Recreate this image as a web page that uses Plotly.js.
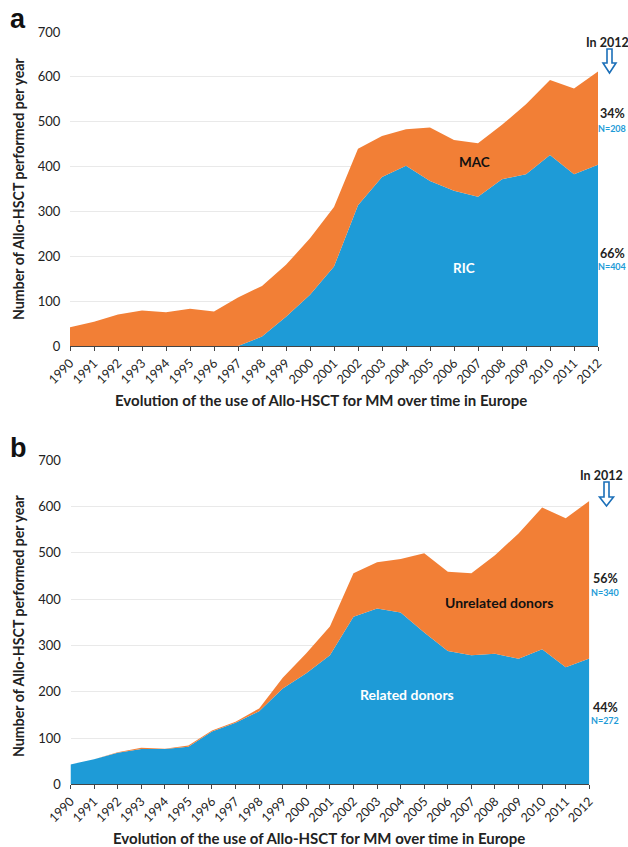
<!DOCTYPE html>
<html>
<head>
<meta charset="utf-8">
<script src="https://cdn.plot.ly/plotly-3.0.1.min.js"></script>
<style>html,body{margin:0;padding:0;background:#fff;}#chart{width:628px;height:847px;}</style>
</head>
<body>
<div id="chart"></div>
<script>
// ---- data ----
const years = ['1990','1991','1992','1993','1994','1995','1996','1997','1998','1999','2000','2001','2002','2003','2004','2005','2006','2007','2008','2009','2010','2011','2012'];
// Panel a: conditioning intensity
const ricA = [0,0,0,0,0,0,0,0,21,65,114,177,314,377,402,368,346,333,372,383,426,383,404];
const macA = [42,54,70,79,75,83,77,108,113,116,126,133,126,91,81,119,113,119,121,156,167,191,208];
// Panel b: donor type
const relatedB = [43,54,68,76,76,81,114,133,158,207,240,279,362,380,371,328,288,279,282,271,292,253,272];
const unrelatedB = [0,0,1,3,1,3,2,2,6,23,43,62,94,100,116,171,171,177,213,271,306,322,340];
const yTicks = [0,100,200,300,400,500,600,700];

// ---- layout helpers ----
const W = 628, H = 847;
const px = x => x / W;
const py = y => 1 - y / H;
const BLUE = '#1E9BD7', ORANGE = '#F27F36', FONT = 'Lato, "Open Sans", sans-serif';

function area(y, color, xa, ya, grp, name) {
  return {x: years, y: y, type: 'scatter', mode: 'none', stackgroup: grp, name: name,
          fillcolor: color, line: {width: 0}, xaxis: xa, yaxis: ya, hoverinfo: 'x+y+name'};
}
const data = [
  area(ricA, BLUE, 'x', 'y', 'a', 'RIC'),
  area(macA, ORANGE, 'x', 'y', 'a', 'MAC'),
  area(relatedB, BLUE, 'x2', 'y2', 'b', 'Related donors'),
  area(unrelatedB, ORANGE, 'x2', 'y2', 'b', 'Unrelated donors')
];

function xax(d0, d1, anchor) {
  return {domain: [d0, d1], anchor: anchor, type: 'category', range: [0, years.length - 1],
          tickangle: -45, showline: true, linecolor: '#444', linewidth: 1, ticks: 'outside',
          ticklen: 4, tickcolor: '#444', showgrid: false, zeroline: false,
          tickfont: {family: FONT, size: 12.5, color: '#222'}, fixedrange: true};
}
function yax(d0, d1, anchor) {
  return {domain: [d0, d1], anchor: anchor, range: [0, 700], tickvals: yTicks,
          showline: false, zeroline: false, gridcolor: '#e9e9e9', gridwidth: 1,
          ticks: 'outside', ticklen: 6, tickcolor: 'rgba(0,0,0,0)',
          tickfont: {family: FONT, size: 13, color: '#222'}, fixedrange: true};
}

function ann(text, x, y, size, color, bold, extra) {
  return Object.assign({text: bold ? '<b>' + text + '</b>' : text, xref: 'paper', yref: 'paper',
    x: px(x), y: py(y), xanchor: 'center', yanchor: 'middle', showarrow: false,
    font: {family: FONT, size: size, color: color}}, extra || {});
}
function arrowPath(cx, top, headTop, tip, shaftHalf, headHalf) {
  const pts = [[cx - shaftHalf, top], [cx + shaftHalf, top], [cx + shaftHalf, headTop], [cx + headHalf, headTop],
               [cx, tip], [cx - headHalf, headTop], [cx - shaftHalf, headTop]];
  return 'M ' + pts.map(p => px(p[0]) + ',' + py(p[1])).join(' L ') + ' Z';
}

const xTitle = 'Evolution of the use of Allo-HSCT for MM over time in Europe';
const yTitle = 'Number of Allo-HSCT performed per year';

const layout = {
  width: W, height: H, margin: {l: 0, r: 0, t: 0, b: 0},
  paper_bgcolor: '#fff', plot_bgcolor: '#fff', showlegend: false,
  font: {family: FONT},
  xaxis: xax(px(70), px(598), 'y'),
  yaxis: yax(py(346), py(32), 'x'),
  xaxis2: xax(px(70.5), px(589.3), 'y2'),
  yaxis2: yax(py(784.3), py(460.3), 'x2'),
  annotations: [
    ann('a', 18, 19, 27, '#111', true, {font: {family: 'Liberation Sans, Arial, sans-serif', size: 27, color: '#111'}}),
    ann('b', 18, 448, 27, '#111', true, {font: {family: 'Liberation Sans, Arial, sans-serif', size: 27, color: '#111'}}),
    ann(yTitle, 18, 189, 14.2, '#222', true, {textangle: -90}),
    ann(yTitle, 18, 626, 14.2, '#222', true, {textangle: -90}),
    ann(xTitle, 321, 400, 15, '#222', true),
    ann(xTitle, 319, 838, 15, '#222', true),
    ann('In 2012', 607, 42, 12.5, '#222', true),
    ann('34%', 612, 114, 12.5, '#222', true),
    ann('N=208', 611.5, 128, 9, BLUE, true),
    ann('66%', 612, 253, 12.5, '#222', true),
    ann('N=404', 611.5, 267, 9, BLUE, true),
    ann('MAC', 474, 162, 13.5, '#111', true),
    ann('RIC', 464, 268, 13.5, '#fff', true),
    ann('In 2012', 601, 475, 12.5, '#222', true),
    ann('56%', 605, 578, 12.5, '#222', true),
    ann('N=340', 605, 592, 9, BLUE, true),
    ann('44%', 605, 707, 12.5, '#222', true),
    ann('N=272', 605, 720, 9, BLUE, true),
    ann('Unrelated donors', 499, 602, 14, '#111', true),
    ann('Related donors', 407, 694, 14, '#fff', true)
  ],
  shapes: [
    {type: 'path', xref: 'paper', yref: 'paper', path: arrowPath(609.5, 49, 63, 73, 2.5, 6.5),
     line: {color: '#1B6FB8', width: 1.6}, fillcolor: '#fff'},
    {type: 'path', xref: 'paper', yref: 'paper', path: arrowPath(606.5, 482, 497, 506, 2.5, 7),
     line: {color: '#1B6FB8', width: 1.6}, fillcolor: '#fff'}
  ]
};

Plotly.newPlot('chart', data, layout, {staticPlot: true});
</script>
</body>
</html>
